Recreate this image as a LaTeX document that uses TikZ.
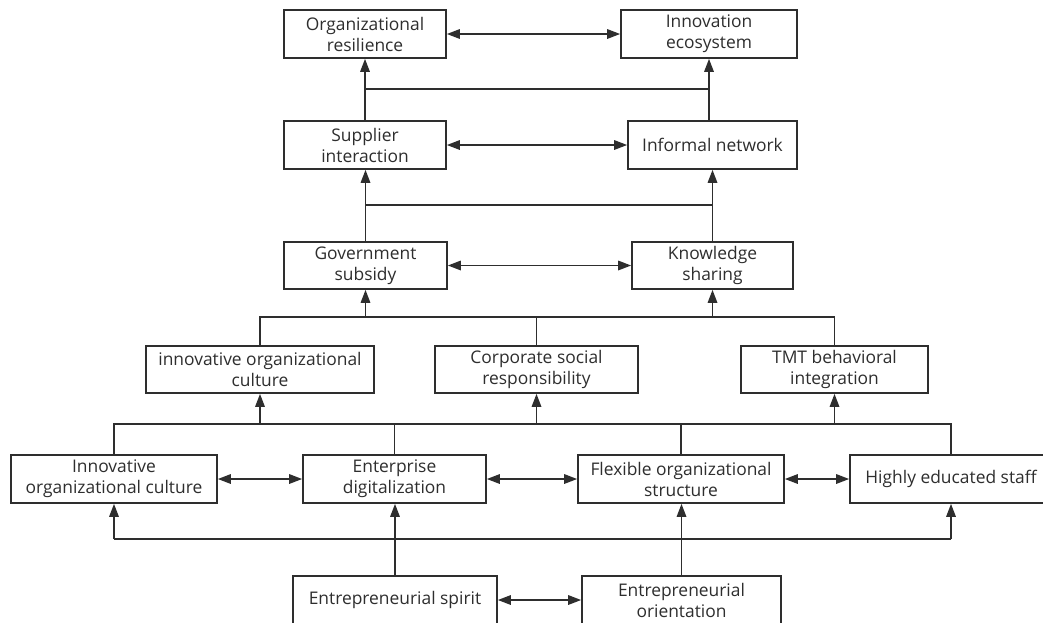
\documentclass[tikz,border=0pt]{standalone}
\usepackage{fontspec}
\setmainfont{Open Sans}
\usetikzlibrary{arrows.meta}
\definecolor{ink}{HTML}{2E2E2E}
\begin{document}
\begin{tikzpicture}[x=1pt,y=-1pt,
  box/.style={draw=ink, line width=1.7pt, fill=white, align=center, inner sep=0pt,
    font=\fontsize{17.4}{21}\selectfont, text=ink},
  link/.style={draw=ink, line width=1.6pt},
  arr/.style={link, -{Triangle[length=13pt,width=9.5pt]}},
  biarr/.style={link, {Triangle[length=13pt,width=9.5pt]}-{Triangle[length=13pt,width=9.5pt]}}]
\useasboundingbox (0,0) rectangle (1043,622);
\clip (0,0) rectangle (1043,622);
\fill[white] (0,0) rectangle (1043,622);

% level 1
\node[box, minimum width=162pt, minimum height=48pt] (orgres) at (365,34) {Organizational\\resilience};
\node[box, minimum width=176pt, minimum height=48pt] (innoeco) at (709,34) {Innovation\\ecosystem};
% level 2
\node[box, minimum width=162pt, minimum height=48pt] (sup) at (365,145) {Supplier\\interaction};
\node[box, minimum width=169pt, minimum height=48pt] (inf) at (712.5,145) {Informal network};
% level 3
\node[box, minimum width=163pt, minimum height=47pt] (gov) at (365.5,265.5) {Government\\subsidy};
\node[box, minimum width=161pt, minimum height=47pt] (know) at (712.5,265.5) {Knowledge\\sharing};
% level 4
\node[box, minimum width=228pt, minimum height=47pt] (iocA) at (260,369.5) {innovative organizational\\culture};
\node[box, minimum width=203pt, minimum height=47pt] (csr) at (536.5,369.5) {Corporate social\\responsibility};
\node[box, minimum width=187pt, minimum height=47pt] (tmt) at (834.5,369.5) {TMT behavioral\\integration};
% level 5
\node[box, minimum width=206pt, minimum height=48pt] (iocB) at (114,479) {Innovative\\organizational culture};
\node[box, minimum width=183pt, minimum height=48pt] (ed) at (394.5,479) {Enterprise\\digitalization};
\node[box, minimum width=206pt, minimum height=48pt] (flex) at (681,479) {Flexible organizational\\structure};
\node[box, minimum width=202pt, minimum height=48pt] (staff) at (951,479) {Highly educated staff};
% level 6
\node[box, minimum width=204pt, minimum height=48pt] (es) at (395,600) {Entrepreneurial spirit};
\node[box, minimum width=199pt, minimum height=48pt] (eo) at (681.5,600) {Entrepreneurial\\orientation};

\coordinate (j1) at (0,89);
\coordinate (j2) at (0,205);
\coordinate (j3) at (0,317);
\coordinate (j4) at (0,424);
\coordinate (j5) at (0,539);

% top
\draw[biarr] (orgres.east) -- (innoeco.west);
\draw[arr] (sup.north) -- (orgres.south);
\draw[arr] (innoeco.south |- inf.north) -- (innoeco.south);
\draw[link] (sup.north |- j1) -- (innoeco.south |- j1);
% level 2-3
\draw[biarr] (sup.east) -- (inf.west);
\draw[arr] (gov.north) -- (gov.north |- sup.south);
\draw[arr] (know.north) -- (know.north |- inf.south);
\draw[link] (gov.north |- j2) -- (know.north |- j2);
\draw[biarr] (gov.east) -- (know.west);
% level 3-4
\draw[link] (iocA.north) |- (tmt.north |- j3) -- (tmt.north);
\draw[link] (csr.north) -- (csr.north |- j3);
\draw[arr] (gov.south |- j3) -- (gov.south);
\draw[arr] (know.south |- j3) -- (know.south);
% level 4-5
\draw[link] (iocB.north) |- (staff.north |- j4) -- (staff.north);
\draw[link] (ed.north) -- (ed.north |- j4);
\draw[link] (flex.north) -- (flex.north |- j4);
\draw[arr] (iocA.south |- j4) -- (iocA.south);
\draw[arr] (csr.south |- j4) -- (csr.south);
\draw[arr] (tmt.south |- j4) -- (tmt.south);
\draw[biarr] (iocB.east) -- (ed.west);
\draw[biarr] (ed.east) -- (flex.west);
\draw[biarr] (flex.east) -- (staff.west);
% level 5-6
\draw[link] (iocB.south |- j5) -- (staff.south |- j5);
\draw[arr] (iocB.south |- j5) -- (iocB.south);
\draw[arr] (staff.south |- j5) -- (staff.south);
\draw[arr] (es.north) -- (es.north |- ed.south);
\draw[arr] (eo.north) -- (eo.north |- flex.south);
\draw[biarr] (es.east) -- (eo.west);
\end{tikzpicture}
\end{document}
